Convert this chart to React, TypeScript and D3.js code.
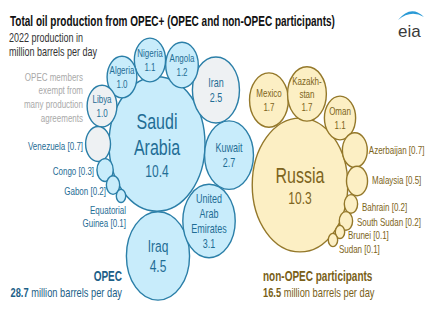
import React from "react";
import * as d3 from "d3";

// 2022 production, million barrels per day
const opecNames = [
  "Saudi Arabia", "Iraq", "United Arab Emirates", "Kuwait", "Iran", "Angola",
  "Nigeria", "Algeria", "Libya", "Venezuela", "Congo", "Gabon", "Equatorial Guinea",
];
const opecValues = [10.4, 4.5, 3.1, 2.7, 2.5, 1.2, 1.1, 1.0, 1.0, 0.7, 0.3, 0.2, 0.1];
const opecExempt = ["Iran", "Libya", "Venezuela"];

const nonOpecNames = [
  "Russia", "Mexico", "Kazakhstan", "Oman", "Azerbaijan", "Malaysia",
  "Bahrain", "South Sudan", "Brunei", "Sudan",
];
const nonOpecValues = [10.3, 1.7, 1.7, 1.1, 0.7, 0.5, 0.2, 0.2, 0.1, 0.1];

const groupTotals = [28.7, 16.5];

// how names break inside/outside the bubbles
const nameLines: Record<string, string[]> = {
  "Saudi Arabia": ["Saudi", "Arabia"],
  "United Arab Emirates": ["United", "Arab", "Emirates"],
  "Kazakhstan": ["Kazakh-", "stan"],
  "Equatorial Guinea": ["Equatorial", "Guinea"],
};

// satellite placement: angle around the hub (deg), gap to hub, outer label offset
type Place = { a: number; pad: number; lx?: number; ly?: number; anchor?: string };
const layout: Record<string, Place> = {
  "Iraq": { a: 89.3, pad: 0.4 },
  "United Arab Emirates": { a: 46.6, pad: 1.5 },
  "Kuwait": { a: 6.3, pad: 0 },
  "Iran": { a: -33.2, pad: -1.1 },
  "Angola": { a: -66.1, pad: -2.6 },
  "Nigeria": { a: -96.7, pad: -3.2 },
  "Algeria": { a: -126.2, pad: -3.6 },
  "Libya": { a: -153.8, pad: -1.6 },
  "Venezuela": { a: 180, pad: -1.5, lx: -15, ly: 6, anchor: "end" },
  "Congo": { a: 160.3, pad: -1, lx: -11, ly: 5, anchor: "end" },
  "Gabon": { a: 146.3, pad: -1.8, lx: -7, ly: 10, anchor: "end" },
  "Equatorial Guinea": { a: 134.1, pad: -1, lx: 5, ly: 18, anchor: "end" },
  "Mexico": { a: -117.1, pad: 1 },
  "Kazakhstan": { a: -83.9, pad: -1.8 },
  "Oman": { a: -50.1, pad: -1 },
  "Azerbaijan": { a: -24.4, pad: 0, lx: 14, ly: 4, anchor: "start" },
  "Malaysia": { a: -2.9, pad: -1.2, lx: 15, ly: 3, anchor: "start" },
  "Bahrain": { a: 14.9, pad: -1.7, lx: 11, ly: 7, anchor: "start" },
  "South Sudan": { a: 29.2, pad: -1.8, lx: 11, ly: 5, anchor: "start" },
  "Brunei": { a: 40, pad: -0.3, lx: 8, ly: 7, anchor: "start" },
  "Sudan": { a: 50, pad: -1.2, lx: 6, ly: 13, anchor: "start" },
};

const W = 437;
const H = 323;
const SY = 1.4; // the picture is stretched vertically
const FONT = "'Liberation Sans', Arial, sans-serif";

const r = d3.scaleSqrt().domain([0, 10.4]).range([0, 48]);

const themes = {
  opec: { fill: "#c8ecfb", exempt: "#eef1f3", stroke: "#2b7fa8", text: "#1f6d95", foot: "#1d5f88" },
  non: { fill: "#fcefc4", exempt: "#fcefc4", stroke: "#94782a", text: "#7d6420", foot: "#7a5f18" },
};

type Bubble = { name: string; v: number; x: number; y: number; rr: number; exempt: boolean };

function buildGroup(names: string[], values: number[], hx: number, hy: number, exempt: string[]): Bubble[] {
  const rh = r(values[0]);
  return names.map((name, i) => {
    const v = values[i];
    const rr = r(v);
    if (i === 0) return { name, v, x: hx, y: hy, rr, exempt: false };
    const p = layout[name];
    const d = rh + rr + p.pad;
    const t = (p.a * Math.PI) / 180;
    return { name, v, x: hx + d * Math.cos(t), y: hy + d * Math.sin(t) * SY, rr, exempt: exempt.includes(name) };
  });
}

const T = ({ x, y, size, fill, anchor = "middle", weight = "normal", children }: any) => (
  <text
    transform={`translate(${x},${y}) scale(1,${SY})`}
    fontSize={size}
    fill={fill}
    textAnchor={anchor}
    fontWeight={weight}
    fontFamily={FONT}
  >
    {children}
  </text>
);

function fontsFor(v: number): [number, number] {
  if (v >= 10) return [16, 12];
  if (v >= 4) return [12, 12];
  if (v >= 2) return [9, 9];
  return [8, 8];
}

function BubbleMark({ b, theme }: { b: Bubble; theme: typeof themes.opec }) {
  const lines = nameLines[b.name] || [b.name];
  const inside = b.v >= 1;
  let content: React.ReactNode;
  if (inside) {
    const [fn, fv] = fontsFor(b.v);
    const rows = [...lines.map((l) => ({ t: l, f: fn })), { t: b.v.toFixed(1), f: fv }];
    const lhs = rows.map((row) => row.f * 1.2 * SY);
    const total = d3.sum(lhs);
    let top = b.y - total / 2;
    content = rows.map((row, i) => {
      const base = top + lhs[i] * 0.8;
      top += lhs[i];
      return (
        <T key={i} x={b.x} y={base} size={row.f} fill={theme.text}>
          {row.t}
        </T>
      );
    });
  } else {
    const p = layout[b.name];
    const labels = lines.slice();
    labels[labels.length - 1] += ` [${b.v.toFixed(1)}]`;
    content = labels.map((l, i) => (
      <T key={i} x={b.x + (p.lx || 0)} y={b.y + (p.ly || 0) + i * 13.5} size={8} fill={theme.text} anchor={p.anchor}>
        {l}
      </T>
    ));
  }
  return (
    <g>
      <ellipse
        cx={b.x}
        cy={b.y}
        rx={b.rr}
        ry={b.rr * SY}
        fill={b.exempt ? theme.exempt : theme.fill}
        stroke={theme.stroke}
        strokeWidth={1.4}
      />
      {content}
    </g>
  );
}

export default function App() {
  const opec = buildGroup(opecNames, opecValues, 157, 144, opecExempt);
  const non = buildGroup(nonOpecNames, nonOpecValues, 300, 185, []);
  const note = ["OPEC members", "exempt from", "many production", "agreements"];

  return (
    <svg width={W} height={H} style={{ position: "absolute", left: 0, top: 0 }}>
      <rect width={W} height={H} fill="#fff" />

      <T x={10} y={26} size={10} weight="bold" fill="#111" anchor="start">
        Total oil production from OPEC+ (OPEC and non-OPEC participants)
      </T>
      <T x={9} y={41.5} size={9} fill="#333" anchor="start">2022 production in</T>
      <T x={9} y={56} size={9} fill="#333" anchor="start">million barrels per day</T>

      {note.map((l, i) => (
        <T key={l} x={83} y={80.7 + i * 13.6} size={8} fill="#a9a9a9" anchor="end">
          {l}
        </T>
      ))}

      {opec.map((b) => (
        <BubbleMark key={b.name} b={b} theme={themes.opec} />
      ))}
      {non.map((b) => (
        <BubbleMark key={b.name} b={b} theme={themes.non} />
      ))}

      <T x={122} y={281} size={10} weight="bold" fill={themes.opec.foot} anchor="end">OPEC</T>
      <T x={122} y={297} size={9.3} fill={themes.opec.foot} anchor="end">
        <tspan fontWeight="bold">{groupTotals[0].toFixed(1)}</tspan> million barrels per day
      </T>
      <T x={263} y={281} size={10} weight="bold" fill={themes.non.foot} anchor="start">non-OPEC participants</T>
      <T x={263} y={297} size={9.3} fill={themes.non.foot} anchor="start">
        <tspan fontWeight="bold">{groupTotals[1].toFixed(1)}</tspan> million barrels per day
      </T>

      <path d="M398,20 Q411,4 424,17 Q411,9 398,20 Z" fill="#2a9ad6" />
      <text x={398} y={37} fontSize={17} fill="#3a3a3a" fontFamily={FONT}>eia</text>
    </svg>
  );
}
